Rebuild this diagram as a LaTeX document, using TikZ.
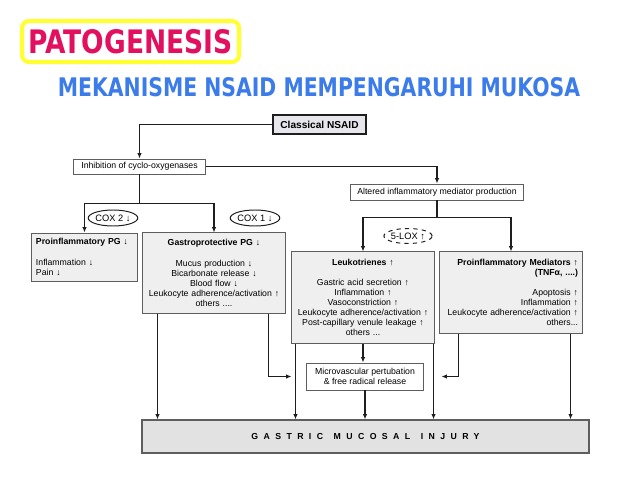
\documentclass[tikz,border=0pt]{standalone}
\usepackage{fontspec}
\usepackage{graphicx}
\usepackage{tikz}
\usetikzlibrary{arrows.meta, positioning, shapes.geometric, calc}
\setmainfont{Liberation Sans}
\newfontfamily\bannerfont{DejaVu Sans}
\definecolor{titlepink}{HTML}{E2105F}
\definecolor{titleblue}{HTML}{3B7CEA}
\definecolor{hiyellow}{HTML}{FFFF33}
\definecolor{boxgray}{HTML}{EFEFEF}
\definecolor{injgray}{HTML}{E2E2E2}
\definecolor{keygray}{HTML}{E6E6EC}
\definecolor{edgegray}{HTML}{5E5E5E}
\definecolor{linedark}{HTML}{1E1E1E}

\begin{document}
\begin{tikzpicture}[x=0.025cm, y=-0.025cm,
  txt/.style={font=\fontsize{6.2}{7.2}\selectfont},
  keybox/.style={rectangle, draw=linedark, line width=1.4pt, fill=keygray,
               inner sep=0pt, font=\fontsize{7.2}{8}\selectfont\bfseries},
  stepbox/.style={rectangle, draw=edgegray, line width=0.7pt, fill=white,
               inner sep=0pt, align=center, txt},
  infobox/.style={rectangle, draw=edgegray, line width=0.7pt, fill=boxgray,
               inner xsep=0.1cm, inner ysep=0pt, text width=3.35cm,
               minimum width=3.55cm, txt},
  tagoval/.style={ellipse, draw=linedark, line width=0.7pt, fill=white,
               inner sep=0pt, font=\fontsize{6.6}{7}\selectfont},
  arrow/.style={-{Latex[length=3.8pt, width=3.2pt]}, line width=1pt, color=linedark},
  link/.style={line width=1pt, color=linedark},
]
\useasboundingbox (0,0) rectangle (638,479);

% heading
\node[draw=hiyellow, line width=2.9pt, rounded corners=5pt, fill=white,
      minimum width=5.425cm, minimum height=1.025cm, inner sep=0pt] (ttl) at (130.5,41.5)
  {\color{titlepink}\resizebox{5.1cm}{0.6cm}{\bannerfont\bfseries PATOGENESIS}};
\node[inner sep=0pt] (sub) at (319,87.5)
  {\color{titleblue}\resizebox{13.05cm}{0.475cm}{\bannerfont\bfseries MEKANISME NSAID MEMPENGARUHI MUKOSA}};

% top of the chart
\node[keybox, minimum width=2.325cm, minimum height=0.475cm] (nsaid) at (319.5,124.5) {Classical NSAID};
\node[stepbox, minimum width=3.275cm, minimum height=0.375cm] (inh) at (139.5,166.5) {Inhibition of cyclo-oxygenases};
\node[stepbox, minimum width=4.3cm, minimum height=0.4cm] (alt) at (437,192) {Altered inflammatory mediator production};

\node[tagoval, minimum width=1.1cm, minimum height=0.4cm] (cox2) at (113,218) {COX 2 ↓};
\node[tagoval, minimum width=1.125cm, minimum height=0.4cm] (cox1) at (255,218) {COX 1 ↓};
\node[tagoval, dashed, minimum width=1.075cm, minimum height=0.375cm] (lox) at (408,236) {5-LOX ↑};

% effect boxes
\node[infobox, text width=2.425cm, minimum width=2.625cm, minimum height=1.2cm, align=left] (ppg) at (84.5,257)
  {\textbf{Proinflammatory PG ↓}\\[7.5pt]Inflammation ↓\\Pain ↓};
\node[infobox, minimum height=2cm, align=center] (gpg) at (214,273)
  {\textbf{Gastroprotective PG ↓}\\[7.8pt]Mucus production ↓\\Bicarbonate release ↓\\Blood flow ↓\\Leukocyte adherence/activation ↑\\others ....};
\node[infobox, minimum height=2.275cm, align=center] (lkt) at (363,297.5)
  {\textbf{Leukotrienes ↑}\\[7pt]Gastric acid secretion ↑\\Inflammation ↑\\Vasoconstriction ↑\\Leukocyte adherence/activation ↑\\Post-capillary venule leakage ↑\\others ...};
\node[infobox, minimum height=2.025cm, align=right] (pmd) at (511,292.5)
  {\textbf{Proinflammatory Mediators ↑}\\\textbf{(TNFα, ....)}\\[7pt]Apoptosis ↑\\Inflammation ↑\\Leukocyte adherence/activation ↑\\others...};

\node[stepbox, minimum width=2.9cm, minimum height=0.675cm] (mv) at (365,376.5)
  {Microvascular pertubation\\\& free radical release};
\node[rectangle, draw=edgegray, line width=0.9pt, fill=injgray, minimum width=11.175cm,
      minimum height=0.825cm, font=\fontsize{6.2}{7}\selectfont\bfseries] (inj) at (365.5,436.5)
  {\addfontfeature{LetterSpace=62}GASTRIC \hspace{2pt}MUCOSAL \hspace{2pt}INJURY};

% connectors
\draw[arrow] (nsaid.west) -| (inh.north);
\draw[arrow] (inh.east) -| (alt.north);
\draw[link] (inh.south) -- ++(0,29) coordinate (s1);
\draw[arrow] (s1) -| (ppg.north);
\draw[arrow] (s1) -| (gpg.north);
\draw[link] (alt.south) -- ++(0,17) coordinate (s2);
\draw[arrow] (s2) -| (lkt.north);
\draw[arrow] (s2) -| (pmd.north);

\coordinate (g1) at ($(gpg.south west)+(15,0)$);
\coordinate (g2) at ($(gpg.south east)+(-17,0)$);
\coordinate (l1) at ($(lkt.south west)+(4,0)$);
\coordinate (l2) at ($(lkt.south east)+(-1,0)$);
\coordinate (p1) at ($(pmd.south west)+(19,0)$);
\coordinate (p2) at ($(pmd.south east)+(-12,0)$);
\coordinate (mvl) at ($(mv.west)+(-15,0)$);
\coordinate (mvr) at ($(mv.east)+(18,0)$);

\draw[arrow] (g1) -- (g1 |- inj.north);
\draw[arrow] (g2) |- (mvl);
\draw[arrow] (l1) -- (l1 |- inj.north);
\draw[arrow] (lkt.south) -- (lkt.south |- mv.north);
\draw[arrow] (l2) -- (l2 |- inj.north);
\draw[arrow] (mv.south) -- (mv.south |- inj.north);
\draw[arrow] (p1) |- (mvr);
\draw[arrow] (p2) -- (p2 |- inj.north);
\end{tikzpicture}
\end{document}
